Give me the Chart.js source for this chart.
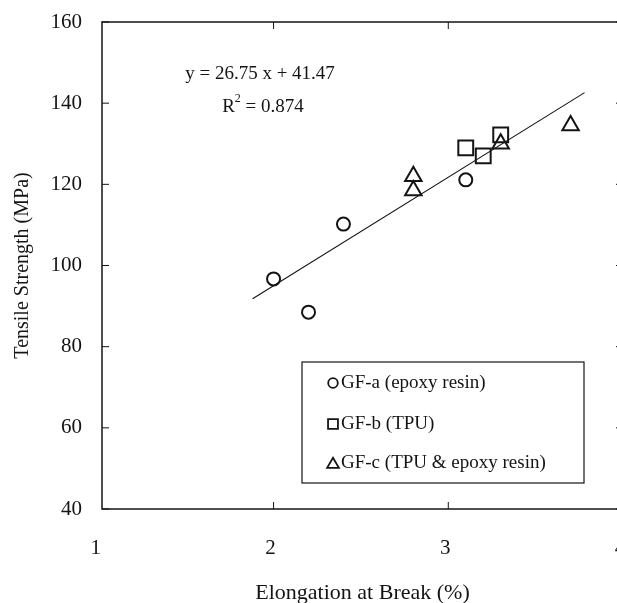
<!DOCTYPE html>
<html>
<head>
<meta charset="utf-8">
<script src="https://cdn.jsdelivr.net/npm/chart.js@4/dist/chart.umd.min.js"></script>
<style>
  html, body { margin: 0; padding: 0; background: #fff; overflow: hidden; }
  #wrap { width: 617px; height: 603px; overflow: hidden; }
  canvas { display: block; }
</style>
</head>
<body>
<div id="wrap"><canvas id="tensileChart" width="640" height="603"></canvas></div>
<script>
// Data
const seriesNames = ['GF-a (epoxy resin)', 'GF-b (TPU)', 'GF-c (TPU & epoxy resin)'];
const gfaElongation = [2.0, 2.2, 2.4, 3.1];
const gfaStrength = [96.7, 88.5, 110.2, 121.1];
const gfbElongation = [3.1, 3.2, 3.3];
const gfbStrength = [129.0, 127.0, 132.2];
const gfcElongation = [2.8, 2.8, 3.3, 3.7];
const gfcStrength = [122.0, 118.5, 130.0, 134.5];
const fitElongation = [1.88, 3.78];
const fitStrength = [91.8, 142.6];
const xTicks = [1, 2, 3, 4];
const yTicks = [40, 60, 80, 100, 120, 140, 160];
const equationText = 'y = 26.75 x + 41.47';
const r2Value = '0.874';

const FONT = "'Liberation Serif', 'Times New Roman', serif";
const INK = '#141414';

function toPoints(xs, ys) {
    return xs.map((x, i) => ({ x: x, y: ys[i] }));
}

// frame, inward ticks, equation and boxed legend
const decorations = {
    id: 'decorations',
    afterDatasetsDraw(chart) {
        const { ctx, chartArea: a, scales } = chart;
        ctx.save();
        ctx.strokeStyle = INK;
        ctx.lineWidth = 1.5;
        ctx.strokeRect(a.left, a.top, a.right - a.left, a.bottom - a.top);

        ctx.lineWidth = 1;
        const len = 7;
        ctx.beginPath();
        xTicks.forEach(v => {
            const px = scales.x.getPixelForValue(v);
            if (px <= a.left + 1 || px >= a.right - 1) return;
            ctx.moveTo(px, a.bottom); ctx.lineTo(px, a.bottom - len);
            ctx.moveTo(px, a.top); ctx.lineTo(px, a.top + len);
        });
        yTicks.forEach(v => {
            const py = scales.y.getPixelForValue(v);
            ctx.moveTo(a.left, py); ctx.lineTo(a.left + len, py);
            ctx.moveTo(a.right, py); ctx.lineTo(a.right - len, py);
        });
        ctx.stroke();

        // regression text
        ctx.fillStyle = INK;
        ctx.textBaseline = 'middle';
        ctx.textAlign = 'center';
        ctx.font = '19px ' + FONT;
        ctx.fillText(equationText, 260, 74);

        ctx.textAlign = 'left';
        const rest = ' = ' + r2Value;
        const wR = ctx.measureText('R').width;
        const wRest = ctx.measureText(rest).width;
        ctx.font = '12px ' + FONT;
        const wSup = ctx.measureText('2').width;
        let x0 = 263 - (wR + wSup + wRest) / 2;
        ctx.font = '19px ' + FONT;
        ctx.fillText('R', x0, 107);
        ctx.font = '12px ' + FONT;
        ctx.fillText('2', x0 + wR, 99);
        ctx.font = '19px ' + FONT;
        ctx.fillText(rest, x0 + wR + wSup, 107);

        // legend box
        ctx.lineWidth = 1.2;
        ctx.strokeRect(302, 362, 282, 121);
        const rows = [383, 424, 463];
        const legendRadius = [4.8, 7, 6.8];
        seriesNames.forEach((name, i) => {
            const ds = chart.data.datasets[i];
            ctx.lineWidth = 1.8;
            ctx.strokeStyle = INK;
            ctx.fillStyle = 'rgba(0,0,0,0)';
            Chart.helpers.drawPoint(ctx, {
                pointStyle: ds.pointStyle,
                radius: legendRadius[i],
                borderWidth: 1.8
            }, 333, rows[i] + (i === 2 ? 1.5 : 0));
            ctx.fillStyle = INK;
            ctx.font = '19px ' + FONT;
            ctx.textBaseline = 'middle';
            ctx.fillText(name, 341, rows[i]);
        });
        ctx.restore();
    }
};

const ctx = document.getElementById('tensileChart').getContext('2d');
const tensileChart = new Chart(ctx, {
    type: 'scatter',
    data: {
        datasets: [{
            label: seriesNames[0],
            data: toPoints(gfaElongation, gfaStrength),
            pointStyle: 'circle',
            pointRadius: 6.5,
            borderColor: INK,
            backgroundColor: 'rgba(0,0,0,0)',
            borderWidth: 2
        }, {
            label: seriesNames[1],
            data: toPoints(gfbElongation, gfbStrength),
            pointStyle: 'rect',
            pointRadius: 10.5,
            borderColor: INK,
            backgroundColor: 'rgba(0,0,0,0)',
            borderWidth: 2
        }, {
            label: seriesNames[2],
            data: toPoints(gfcElongation, gfcStrength),
            pointStyle: 'triangle',
            pointRadius: 9.5,
            borderColor: INK,
            backgroundColor: 'rgba(0,0,0,0)',
            borderWidth: 2
        }, {
            label: 'fit',
            data: toPoints(fitElongation, fitStrength),
            showLine: true,
            pointRadius: 0,
            borderColor: INK,
            borderWidth: 1.1,
            fill: false
        }]
    },
    options: {
        responsive: false,
        animation: false,
        devicePixelRatio: 1,
        layout: { autoPadding: false, padding: { left: 0, top: 22, right: 17, bottom: 0 } },
        plugins: {
            legend: { display: false },
            tooltip: { enabled: false }
        },
        scales: {
            x: {
                type: 'linear',
                min: 1.018,
                max: 4,
                afterFit: s => { s.height = 94; },
                afterBuildTicks: s => { s.ticks = xTicks.map(v => ({ value: v })); },
                grid: { display: false, drawTicks: true, tickLength: 27 },
                border: { display: false },
                ticks: {
                    padding: 0,
                    labelOffset: -3,
                    color: INK,
                    font: { family: FONT, size: 21 },
                    callback: v => String(v)
                },
                title: {
                    display: true,
                    text: 'Elongation at Break (%)',
                    color: INK,
                    font: { family: FONT, size: 22, lineHeight: 1 },
                    padding: { top: 0, bottom: -1 }
                }
            },
            y: {
                min: 40,
                max: 160,
                afterFit: s => { s.width = 102; },
                afterBuildTicks: s => { s.ticks = yTicks.map(v => ({ value: v })); },
                grid: { display: false, drawTicks: true, tickLength: 20 },
                border: { display: false },
                ticks: {
                    padding: 0,
                    color: INK,
                    font: { family: FONT, size: 21 },
                    callback: v => String(v)
                },
                title: {
                    display: true,
                    text: 'Tensile Strength (MPa)',
                    color: INK,
                    font: { family: FONT, size: 20, lineHeight: 1 },
                    padding: { top: 13, bottom: 0 }
                }
            }
        }
    },
    plugins: [decorations]
});
</script>
</body>
</html>
